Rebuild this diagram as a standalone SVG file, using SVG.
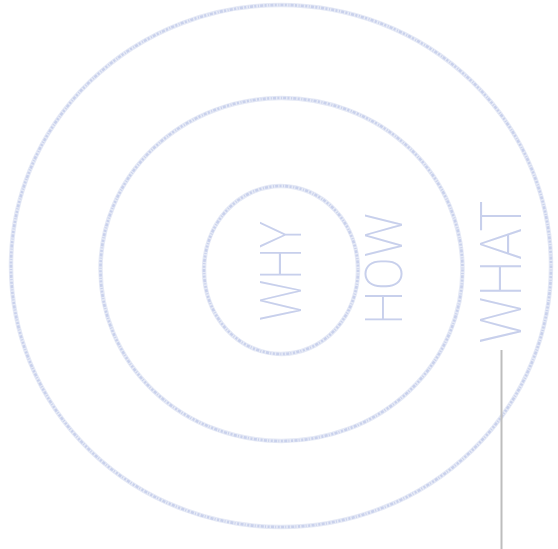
<svg xmlns="http://www.w3.org/2000/svg" width="558" height="549" viewBox="0 0 558 549">
<style>
.ring-base{fill:none;stroke:#e6eaf6;stroke-width:4.5}
.ring{fill:none;stroke:#c9d1ec;stroke-width:2.6;stroke-dasharray:2 1.6 1 1.2 3 1.4}
.lbl{font-family:"Roboto","Inter","Lato","Liberation Sans",sans-serif;font-weight:200;fill:#c8d0ec;text-anchor:middle;dominant-baseline:central}
.conn{stroke:#bdbdbd;stroke-width:2;fill:none}
</style>
<rect width="558" height="549" fill="#ffffff"/>
<g id="what">
<ellipse class="ring-base" cx="281" cy="266" rx="270" ry="261"/>
<ellipse class="ring" cx="281" cy="266" rx="270" ry="261"/>
<text class="lbl" transform="translate(501,272) rotate(-90)" font-size="58" textLength="143" lengthAdjust="spacingAndGlyphs">WHAT</text>
</g>
<g id="how">
<ellipse class="ring-base" cx="281.5" cy="269.5" rx="181" ry="171.5"/>
<ellipse class="ring" cx="281.5" cy="269.5" rx="181" ry="171.5"/>
<text class="lbl" transform="translate(384,269) rotate(-90)" font-size="52" textLength="112" lengthAdjust="spacingAndGlyphs">HOW</text>
</g>
<g id="why">
<ellipse class="ring-base" cx="281" cy="270" rx="77" ry="84"/>
<ellipse class="ring" cx="281" cy="270" rx="77" ry="84"/>
<text class="lbl" transform="translate(281,271) rotate(-90)" font-size="58" textLength="100" lengthAdjust="spacingAndGlyphs">WHY</text>
</g>
<g id="connectors">
<line class="conn" x1="501.5" y1="350" x2="501.5" y2="549"/>
</g>
</svg>
